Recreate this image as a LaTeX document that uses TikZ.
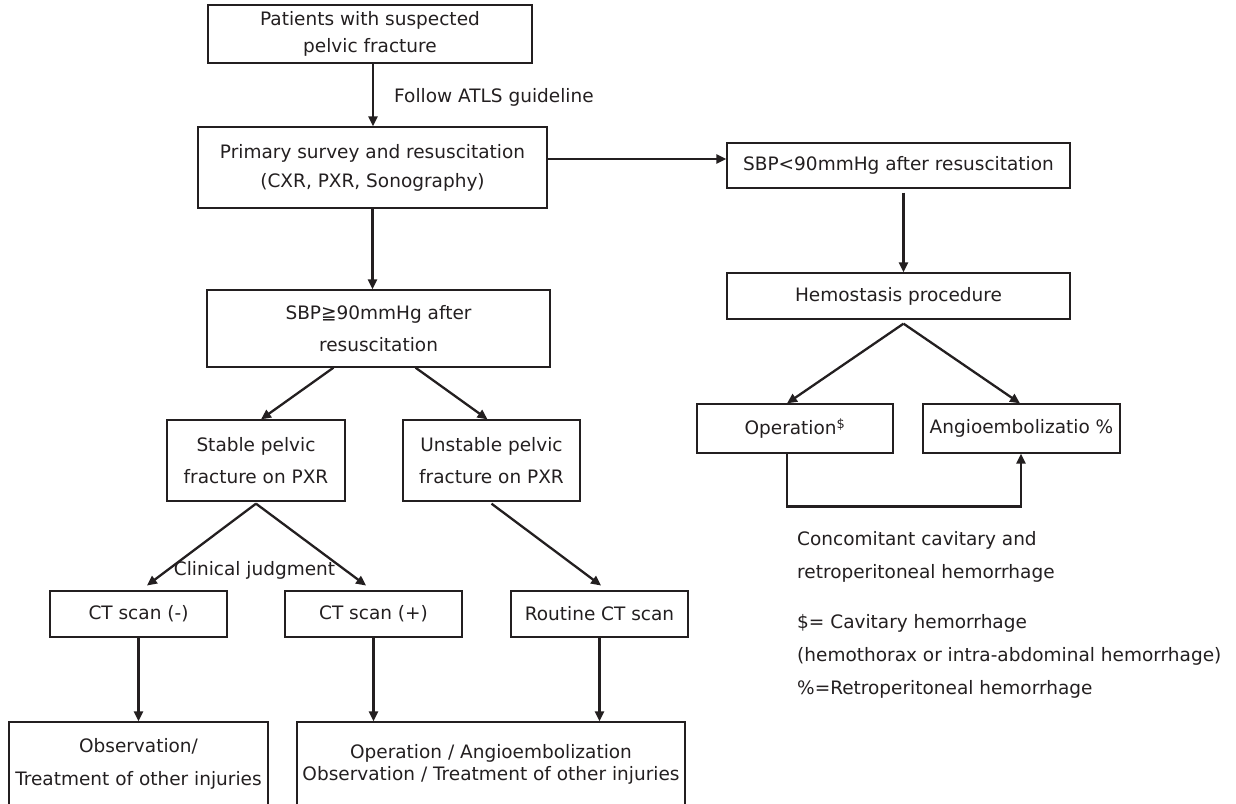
\documentclass[tikz,border=0pt]{standalone}
\usepackage{fontspec}
\usepackage{tikz}
\usetikzlibrary{arrows.meta}
\setmainfont{DejaVu Sans}
\definecolor{linec}{RGB}{35,31,32}
\newcommand{\txtsize}[1]{\fontsize{18.5}{#1}\selectfont}

\begin{document}
\begin{tikzpicture}[x=1pt, y=-1pt]
        \tikzset{box/.style={draw=linec, line width=1.3pt, align=center,
            inner sep=0pt, text=linec}}
        \tikzset{arr/.style={-{Triangle[length=10pt,width=9pt]},
            line width=2.3pt, draw=linec}}
        \tikzset{lbl/.style={inner sep=0pt, text=linec, font=\txtsize{33}}}
        \path[use as bounding box, clip] (0,0) rectangle (1236,803);

        % left column
        \node[box, minimum width=324pt, minimum height=58pt, font=\txtsize{27}]
          (patients) at (370,34) {Patients with suspected\\pelvic fracture};
        \node[box, minimum width=349pt, minimum height=81pt, font=\txtsize{29}]
          (primary) at (372.5,167.5) {Primary survey and resuscitation\\(CXR, PXR, Sonography)};
        \node[box, minimum width=343pt, minimum height=77pt, font=\txtsize{32}]
          (sbphigh) at (378.5,328.5) {SBP{\fontspec{DejaVu Sans}≧}90mmHg after\\resuscitation};
        \node[box, minimum width=178pt, minimum height=81pt, font=\txtsize{32}]
          (stable) at (256,460.5) {Stable pelvic\\fracture on PXR};
        \node[box, minimum width=177pt, minimum height=81pt, font=\txtsize{32}]
          (unstable) at (491.5,460.5) {Unstable pelvic\\fracture on PXR};

        \node[box, minimum width=177pt, minimum height=46pt, font=\txtsize{24}]
          (ctneg) at (138.5,614) {CT scan (-)};
        \node[box, minimum width=177pt, minimum height=46pt, font=\txtsize{24}]
          (ctpos) at (373.5,614) {CT scan (+)};
        \node[box, minimum width=177pt, minimum height=46pt, font=\txtsize{24}]
          (routine) at (599.5,614) {Routine CT scan};

        \node[box, minimum width=259pt, minimum height=84pt, font=\txtsize{33}]
          (obs) at (138.5,764) {Observation/\\Treatment of other injuries};
        \node[box, minimum width=388pt, minimum height=84pt, font=\txtsize{22}]
          (treat) at (491,764) {Operation / Angioembolization\\Observation / Treatment of other injuries};

        % right column
        \node[box, minimum width=343pt, minimum height=45pt, font=\txtsize{24}]
          (sbplow) at (898.5,165.5) {SBP<90mmHg after resuscitation};
        \node[box, minimum width=343pt, minimum height=46pt, font=\txtsize{24}]
          (hemo) at (898.5,296) {Hemostasis procedure};
        \node[box, minimum width=196pt, minimum height=49pt, font=\txtsize{24}]
          (oper) at (795,428.5) {Operation\textsuperscript{\$}};
        \node[box, minimum width=197pt, minimum height=49pt, font=\txtsize{24}]
          (angio) at (1021.5,428.5) {Angioembolizatio \%};

        % labels
        \node[lbl, anchor=west] (atls) at (394,97) {Follow ATLS guideline};
        \node[lbl] (judge) at (254.5,570) {Clinical judgment};
        \node[lbl, anchor=west, align=left] (concom) at (797,557)
          {Concomitant cavitary and\\retroperitoneal hemorrhage};
        \node[lbl, anchor=west, align=left] (legend) at (797,656)
          {\$= Cavitary hemorrhage\\(hemothorax or intra-abdominal hemorrhage)\\\%=Retroperitoneal hemorrhage};

        % connectors
        \draw[arr] ([xshift=3pt]patients.south) -- ([xshift=3pt]patients.south |- primary.north);
        \draw[arr] ([yshift=8.5pt]primary.east) coordinate (pe) -- (pe -| sbplow.west);
        \draw[arr] (primary.south) -- (primary.south |- sbphigh.north);
        \draw[arr] ([xshift=-45pt]sbphigh.south) -- ([xshift=5pt]stable.north);
        \draw[arr] ([xshift=37pt]sbphigh.south) -- ([xshift=-4pt]unstable.north);
        \draw[arr, shorten >=8pt] ([yshift=-2pt]stable.south) -- ([xshift=2pt]ctneg.north);
        \draw[arr, shorten >=8pt] ([yshift=-2pt]stable.south) -- ([xshift=-1pt]ctpos.north);
        \draw[arr, shorten >=8pt] ([yshift=-2pt]unstable.south) -- ([xshift=8pt]routine.north);
        \draw[arr] (ctneg.south) -- (obs.north -| ctneg.south);
        \draw[arr] (ctpos.south) -- (treat.north -| ctpos.south);
        \draw[arr] (routine.south) -- (treat.north -| routine.south);

        \draw[arr] ([xshift=5pt, yshift=-4pt]sbplow.south) -- ([xshift=5pt]hemo.north);
        \draw[arr] ([xshift=5pt, yshift=-4pt]hemo.south) -- ([xshift=-8pt]oper.north);
        \draw[arr] ([xshift=5pt, yshift=-4pt]hemo.south) -- ([xshift=-1.5pt]angio.north);
        \draw[arr, line width=2.6pt] ([xshift=-8pt]oper.south) -- ++(0,53) coordinate (loop)
          -| ([xshift=-0.5pt]angio.south);
      \end{tikzpicture}
\end{document}
